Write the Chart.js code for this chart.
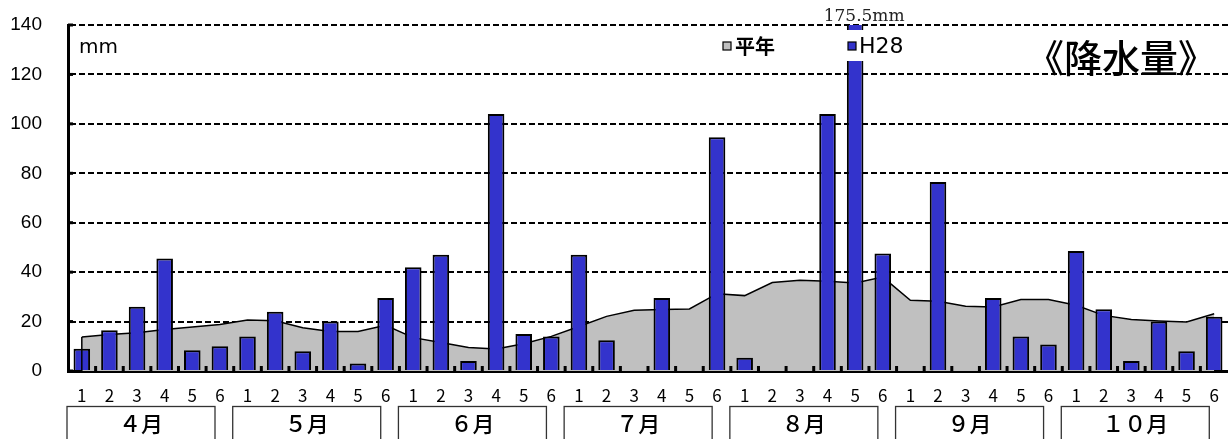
<!DOCTYPE html>
<html lang="ja">
<head>
<meta charset="utf-8">
<title>降水量</title>
<script src="https://cdn.jsdelivr.net/npm/chart.js@4.4.1/dist/chart.umd.min.js"></script>
<style>
    html, body { margin: 0; padding: 0; background: #fff; }
    #grafico { display: block; }
</style>
</head>
<body>
<canvas id="grafico" width="1228" height="439"></canvas>
<script>
// Datos del gráfico (半旬ごとの降水量, mm)
const meses = ['４月', '５月', '６月', '７月', '８月', '９月', '１０月'];
const hanjun = ['1', '2', '3', '4', '5', '6'];

// 平年値
const heinen = [
    13.8, 14.8, 15.5, 16.8, 17.8, 18.8,
    20.6, 20.3, 17.5, 16.0, 16.0, 18.5,
    13.5, 11.5, 9.5, 8.9, 11.0, 14.0,
    18.0, 22.1, 24.6, 24.9, 25.1, 31.3,
    30.5, 35.8, 36.7, 36.3, 35.6, 38.0,
    28.6, 28.2, 26.2, 25.9, 28.9, 28.9,
    26.6, 22.5, 20.8, 20.2, 19.8, 23.2
];

// H28
const h28 = [
    9, 16.5, 26, 45.5, 8.4, 10,
    14, 24, 8, 20, 3, 29.5,
    42, 47, 4, 104, 15, 14,
    47, 12.4, 0, 29.5, 0, 94.6,
    5.4, 0, 0, 104, 175.5, 47.5,
    0, 76.5, 0, 29.5, 14, 10.7,
    48.6, 25, 4, 20, 8, 22
];

const yMin = 0;
const yMax = 140;
const yPaso = 20;

const etiquetas = meses.flatMap(() => hanjun);

const FUENTE_JP = '"Noto Sans CJK JP", "Noto Sans", sans-serif';
const FUENTE_NUM = '"Liberation Sans", Arial, sans-serif';

// Decoraciones: cajas de meses, marcas, leyenda, título
const pluginDecoracion = {
    id: 'decoracion',
    afterDatasetsDraw(chart) {
        const ctx = chart.ctx;
        const x = chart.scales.x;
        const y = chart.scales.y;
        const area = chart.chartArea;
        const ancho = x.getPixelForValue(1) - x.getPixelForValue(0);

        ctx.save();

        // borde izquierdo del área de 平年
        const primero = chart.getDatasetMeta(0).data[0];
        ctx.strokeStyle = '#000';
        ctx.lineWidth = 1.5;
        ctx.beginPath();
        ctx.moveTo(primero.x, y.getPixelForValue(0));
        ctx.lineTo(primero.x, primero.y);
        ctx.stroke();

        // pequeñas marcas entre categorías
        ctx.fillStyle = '#000';
        for (let i = 1; i < etiquetas.length; i++) {
            const px = x.getPixelForValue(i) - ancho / 2;
            ctx.fillRect(px - 1.5, area.bottom - 5, 3, 5);
        }
        // marcas interiores del eje Y
        y.ticks.forEach((t) => {
            const py = y.getPixelForValue(t.value);
            ctx.fillRect(area.left, py - 1.5, 5, 3);
        });

        // etiqueta del valor fuera de escala
        const meta = chart.getDatasetMeta(1);
        h28.forEach((v, i) => {
            if (v > yMax) {
                const barra = meta.data[i];
                ctx.fillStyle = '#222';
                ctx.font = '17px "DejaVu Serif", serif';
                ctx.textAlign = 'center';
                ctx.textBaseline = 'middle';
                ctx.fillText(v + 'mm', barra.x + 9, 17);
            }
        });

        // leyenda
        ctx.fillStyle = '#fff';
        ctx.fillRect(716, 30, 200, 31);
        ctx.lineWidth = 1.2;
        ctx.strokeStyle = '#000';
        ctx.fillStyle = '#c0c0c0';
        ctx.fillRect(723, 42, 8, 8);
        ctx.strokeRect(723, 42, 8, 8);
        ctx.fillStyle = '#3333cc';
        ctx.fillRect(848, 42, 8, 8);
        ctx.strokeRect(848, 42, 8, 8);
        ctx.fillStyle = '#000';
        ctx.textAlign = 'left';
        ctx.textBaseline = 'middle';
        ctx.font = 'bold 20px ' + FUENTE_JP;
        ctx.fillText('平年', 735, 46);
        ctx.font = '22px "DejaVu Sans", sans-serif';
        ctx.fillText('H28', 859, 47);

        // unidad
        ctx.font = '20px "DejaVu Sans", sans-serif';
        ctx.fillText('mm', 79, 48);

        // título
        ctx.font = '500 38px ' + FUENTE_JP;
        ctx.textAlign = 'center';
        ctx.fillText('《降水量》', 1121, 58);

        // cajas de meses
        ctx.lineWidth = 1.3;
        ctx.strokeStyle = '#333';
        ctx.font = '500 22px ' + FUENTE_JP;
        meses.forEach((mes, m) => {
            const inicio = x.getPixelForValue(m * 6) - ancho / 2;
            const izq = inicio - 1;
            ctx.strokeRect(izq, 406.5, 148, 40);
            ctx.fillStyle = '#000';
            ctx.fillText(mes, izq + 74, 424);
        });

        ctx.restore();
    }
};

const grafico = new Chart(document.getElementById('grafico'), {
    data: {
        labels: etiquetas,
        datasets: [
            {
                type: 'line',
                label: '平年',
                data: heinen,
                fill: 'origin',
                backgroundColor: '#c0c0c0',
                borderColor: '#000',
                borderWidth: 1.5,
                pointRadius: 0,
                tension: 0,
                order: 2
            },
            {
                type: 'bar',
                label: 'H28',
                data: h28,
                backgroundColor: '#3333cc',
                borderColor: '#000',
                borderWidth: 2,
                barPercentage: 0.6,
                categoryPercentage: 1.0,
                clip: 0,
                order: 1
            }
        ]
    },
    options: {
        responsive: false,
        devicePixelRatio: 1,
        animation: false,
        layout: { padding: { top: 25, right: 0, left: 0, bottom: 0 } },
        plugins: {
            legend: { display: false },
            tooltip: { enabled: false }
        },
        scales: {
            x: {
                offset: true,
                grid: { display: false, drawTicks: false },
                border: { display: true, color: '#000', width: 3 },
                ticks: {
                    color: '#000',
                    padding: 14,
                    maxRotation: 0,
                    autoSkip: false,
                    font: { family: FUENTE_JP, size: 17 }
                },
                afterFit: (escala) => {
                    escala.height = 68;
                    escala.paddingLeft = 0;
                    escala.paddingRight = 0;
                }
            },
            y: {
                min: yMin,
                max: yMax,
                grid: {
                    color: '#000',
                    lineWidth: 2,
                    drawTicks: false
                },
                border: { display: true, color: '#000', width: 3, dash: [6, 3] },
                ticks: {
                    stepSize: yPaso,
                    color: '#000',
                    padding: 26,
                    font: { family: FUENTE_NUM, size: 19 }
                },
                afterFit: (escala) => {
                    escala.width = 68;
                    escala.paddingTop = 0;
                    escala.paddingBottom = 0;
                }
            }
        }
    },
    plugins: [pluginDecoracion]
});
</script>
</body>
</html>
